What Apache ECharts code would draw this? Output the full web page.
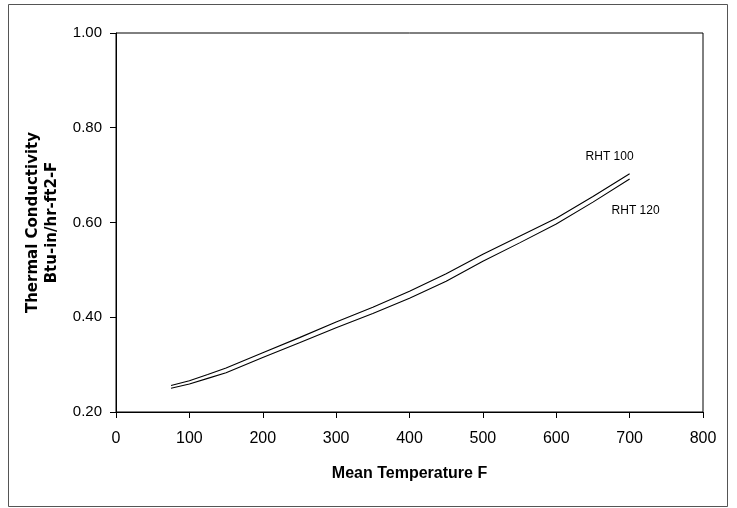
<!DOCTYPE html>
<html>
<head>
<meta charset="utf-8">
<script src="https://cdn.jsdelivr.net/npm/echarts@6/dist/echarts.min.js"></script>
<style>html,body{margin:0;padding:0;background:#fff;}#c{width:737px;height:508px;}</style>
</head>
<body>
<div id="c"></div>
<script>
const temps = [75, 100, 125, 150, 200, 250, 300, 350, 400, 450, 500, 550, 600, 650, 700];
const rht100 = [0.256, 0.266, 0.279, 0.293, 0.325, 0.357, 0.390, 0.421, 0.455, 0.492, 0.533, 0.571, 0.609, 0.655, 0.703];
const rht120 = [0.250, 0.259, 0.271, 0.283, 0.315, 0.346, 0.378, 0.408, 0.440, 0.476, 0.518, 0.557, 0.597, 0.643, 0.692];
const seriesNames = ['RHT 100', 'RHT 120'];
const xTicks = [0, 800, 100];
const yTicks = [0.2, 1.0, 0.2];

const chart = echarts.init(document.getElementById('c'));
const font = 'Liberation Sans, Arial, sans-serif';
function pairs(ys){ return temps.map((t,i)=>[t, ys[i]]); }
const last = temps.length - 1;
chart.setOption({
  animation: false,
  backgroundColor: '#fff',
  graphic: [{
    type: 'rect', shape: {x: 8.5, y: 4.5, width: 719, height: 502},
    style: {fill: 'none', stroke: '#555', lineWidth: 1}
  }],
  grid: {left: 116, right: 34, top: 33, bottom: 96, show: true, borderColor: '#000', borderWidth: 1},
  xAxis: {
    type: 'value', min: xTicks[0], max: xTicks[1], interval: xTicks[2],
    name: 'Mean Temperature F', nameLocation: 'middle', nameGap: 54,
    nameTextStyle: {fontFamily: font, fontSize: 16, fontWeight: 'bold', color: '#000'},
    axisLine: {show: true, lineStyle: {color: '#000', width: 1}},
    axisTick: {show: true, inside: false, length: 6, lineStyle: {color: '#000'}},
    axisLabel: {fontFamily: font, fontSize: 16, color: '#000', margin: 19},
    splitLine: {show: false}
  },
  yAxis: {
    type: 'value', min: yTicks[0], max: yTicks[1], interval: yTicks[2],
    name: 'Thermal Conductivity\nBtu-in/hr-ft2-F', nameLocation: 'middle', nameGap: 50, nameRotate: 90,
    nameTextStyle: {fontFamily: 'DejaVu Sans, sans-serif', fontSize: 15, fontWeight: 'bold', color: '#000', lineHeight: 19},
    axisLine: {show: true, lineStyle: {color: '#000', width: 1}},
    axisTick: {show: true, inside: false, length: 6, lineStyle: {color: '#000'}},
    axisLabel: {fontFamily: font, fontSize: 15, color: '#000', margin: 14, formatter: v => v.toFixed(2)},
    splitLine: {show: false}
  },
  series: [
    {
      name: seriesNames[0], type: 'line', data: pairs(rht100), symbol: 'none', smooth: false,
      lineStyle: {color: '#000', width: 1.1},
      markPoint: {symbol: 'circle', symbolSize: 0, data: [{coord: [temps[last], rht100[last]],
        label: {show: true, formatter: seriesNames[0], fontFamily: font, fontSize: 12, color: '#000', offset: [-20, -17]}}]}
    },
    {
      name: seriesNames[1], type: 'line', data: pairs(rht120), symbol: 'none', smooth: false,
      lineStyle: {color: '#000', width: 1.1},
      markPoint: {symbol: 'circle', symbolSize: 0, data: [{coord: [temps[last], rht120[last]],
        label: {show: true, formatter: seriesNames[1], fontFamily: font, fontSize: 12, color: '#000', offset: [6, 32]}}]}
    }
  ]
});
</script>
</body>
</html>
